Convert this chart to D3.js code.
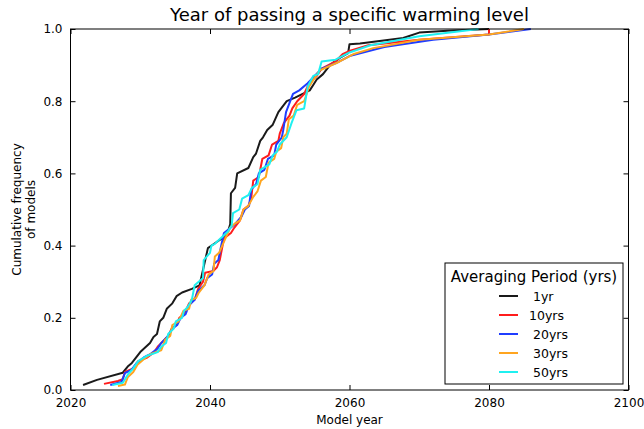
<!DOCTYPE html>
<html>
<head>
<meta charset="utf-8">
<script src="https://cdn.jsdelivr.net/npm/d3@7"></script>
<style>
  html, body { margin: 0; padding: 0; background: #fff; }
  svg { display: block; font-family: "DejaVu Sans", sans-serif; }
</style>
</head>
<body>
<svg id="chart" width="644" height="429"></svg>
<script>
// ---------------- data ----------------
const seriesNames = ["1yr", "10yrs", "20yrs", "30yrs", "50yrs"];
const legendLabels = [" 1yr", "10yrs", " 20yrs", " 30yrs", " 50yrs"];
const seriesColors = ["#1a1a1a", "#ff1c1c", "#1f3dff", "#ffa51f", "#1ff0f0"];

const yr1Years = [2021.8, 2023.8, 2027.5, 2028.2, 2028.8, 2030.0, 2031.4, 2031.9, 2032.4, 2032.8, 2033.3, 2033.8, 2034.6, 2035.2, 2036.0, 2037.4, 2038.5, 2039.7, 2040.6, 2041.7, 2042.6, 2042.9, 2043.0, 2043.6, 2043.9, 2045.5, 2046.2, 2046.6, 2047.2, 2047.6, 2048.2, 2049.0, 2049.8, 2051.0, 2052.2, 2054.3, 2054.8, 2055.3, 2056.2, 2057.2, 2058.6, 2059.8, 2060.0, 2061.5, 2067.7, 2070.0, 2074.0, 2080.0];
const yr1Freq  = [0.014, 0.028, 0.048, 0.065, 0.075, 0.105, 0.130, 0.147, 0.155, 0.190, 0.200, 0.225, 0.240, 0.260, 0.270, 0.280, 0.290, 0.393, 0.405, 0.420, 0.440, 0.460, 0.545, 0.560, 0.600, 0.615, 0.645, 0.655, 0.690, 0.700, 0.720, 0.735, 0.770, 0.800, 0.810, 0.830, 0.845, 0.860, 0.875, 0.900, 0.920, 0.933, 0.958, 0.960, 0.975, 0.990, 0.995, 1.000];

const yr10Years = [2024.8, 2026.8, 2027.5, 2027.8, 2029.0, 2029.7, 2031.0, 2032.0, 2032.5, 2033.0, 2034.0, 2034.5, 2035.2, 2035.6, 2036.3, 2037.0, 2037.8, 2038.3, 2039.0, 2039.3, 2040.5, 2041.0, 2041.4, 2041.7, 2042.0, 2043.0, 2043.5, 2044.3, 2044.8, 2045.5, 2045.9, 2046.2, 2047.0, 2047.5, 2048.4, 2048.9, 2049.8, 2050.0, 2050.6, 2051.4, 2051.8, 2052.5, 2053.5, 2054.2, 2055.3, 2056.0, 2058.0, 2059.0, 2060.1, 2062.7, 2065.0, 2070.0, 2080.0, 2080.0];
const yr10Freq  = [0.017, 0.025, 0.030, 0.050, 0.060, 0.080, 0.090, 0.105, 0.120, 0.130, 0.150, 0.170, 0.180, 0.200, 0.210, 0.240, 0.250, 0.280, 0.300, 0.325, 0.330, 0.340, 0.360, 0.390, 0.420, 0.435, 0.450, 0.470, 0.500, 0.510, 0.530, 0.580, 0.590, 0.640, 0.650, 0.680, 0.690, 0.710, 0.740, 0.760, 0.780, 0.800, 0.820, 0.850, 0.870, 0.890, 0.910, 0.930, 0.940, 0.955, 0.960, 0.970, 0.985, 1.000];

const yr20Years = [2025.7, 2027.3, 2027.8, 2028.7, 2029.5, 2030.5, 2031.5, 2032.5, 2033.0, 2034.0, 2034.6, 2035.3, 2035.8, 2036.5, 2037.0, 2037.8, 2038.3, 2039.2, 2039.6, 2040.3, 2040.6, 2041.2, 2041.5, 2042.0, 2043.0, 2043.6, 2044.5, 2045.0, 2045.6, 2045.9, 2046.6, 2047.0, 2047.8, 2048.3, 2049.2, 2049.5, 2050.3, 2050.5, 2050.9, 2051.5, 2051.9, 2052.8, 2054.0, 2055.0, 2056.0, 2058.0, 2060.0, 2065.0, 2072.0, 2080.0, 2086.0];
const yr20Freq  = [0.014, 0.022, 0.047, 0.055, 0.075, 0.090, 0.100, 0.115, 0.130, 0.150, 0.170, 0.180, 0.200, 0.210, 0.235, 0.250, 0.275, 0.290, 0.310, 0.320, 0.350, 0.360, 0.390, 0.435, 0.450, 0.460, 0.480, 0.500, 0.510, 0.555, 0.570, 0.600, 0.610, 0.640, 0.650, 0.680, 0.700, 0.720, 0.770, 0.800, 0.820, 0.830, 0.850, 0.870, 0.890, 0.905, 0.925, 0.950, 0.970, 0.985, 1.000];

const yr30Years = [2026.8, 2027.8, 2028.2, 2029.0, 2029.6, 2030.5, 2031.5, 2033.0, 2033.6, 2034.3, 2034.6, 2035.5, 2036.2, 2037.0, 2037.3, 2038.0, 2038.4, 2039.2, 2039.8, 2040.5, 2040.7, 2041.3, 2042.9, 2043.5, 2044.3, 2044.8, 2045.5, 2046.2, 2046.8, 2047.3, 2048.0, 2048.4, 2049.2, 2049.5, 2050.2, 2050.5, 2051.0, 2051.3, 2052.0, 2052.5, 2053.5, 2054.2, 2055.7, 2058.6, 2060.5, 2063.4, 2070.0, 2080.0, 2085.0];
const yr30Freq  = [0.011, 0.015, 0.035, 0.050, 0.070, 0.085, 0.100, 0.110, 0.140, 0.150, 0.180, 0.190, 0.220, 0.225, 0.250, 0.255, 0.270, 0.290, 0.320, 0.330, 0.370, 0.380, 0.450, 0.460, 0.470, 0.500, 0.510, 0.535, 0.550, 0.580, 0.590, 0.630, 0.640, 0.660, 0.670, 0.700, 0.710, 0.750, 0.760, 0.790, 0.800, 0.840, 0.885, 0.910, 0.930, 0.947, 0.970, 0.985, 1.000];

const yr50Years = [2026.0, 2027.5, 2028.3, 2029.0, 2029.7, 2031.0, 2032.5, 2033.0, 2033.7, 2034.0, 2034.8, 2035.1, 2036.0, 2036.3, 2036.8, 2037.4, 2037.8, 2039.0, 2039.1, 2040.0, 2040.2, 2040.7, 2042.6, 2043.1, 2043.3, 2044.2, 2044.6, 2045.5, 2046.0, 2046.8, 2047.2, 2048.5, 2049.0, 2049.6, 2050.0, 2051.0, 2051.7, 2052.4, 2053.5, 2054.0, 2054.8, 2055.5, 2056.0, 2058.0, 2060.0, 2063.0, 2070.0, 2078.5];
const yr50Freq  = [0.014, 0.020, 0.045, 0.060, 0.080, 0.095, 0.105, 0.120, 0.130, 0.155, 0.170, 0.190, 0.200, 0.220, 0.230, 0.250, 0.290, 0.310, 0.360, 0.380, 0.400, 0.405, 0.440, 0.455, 0.490, 0.500, 0.530, 0.540, 0.560, 0.570, 0.610, 0.625, 0.650, 0.660, 0.680, 0.700, 0.740, 0.775, 0.780, 0.840, 0.870, 0.875, 0.910, 0.915, 0.935, 0.955, 0.980, 1.000];

const xTicks = [2020, 2040, 2060, 2080, 2100];
const yTicks = [0.0, 0.2, 0.4, 0.6, 0.8, 1.0];
const titleText = "Year of passing a specific warming level";
const xLabel = "Model year";
const yLabelLines = ["Cumulative frequency", "of models"];
const legendTitle = "Averaging Period (yrs)";

// ---------------- chart ----------------
(function () {
const allYears = [yr1Years, yr10Years, yr20Years, yr30Years, yr50Years];
const allFreq = [yr1Freq, yr10Freq, yr20Freq, yr30Freq, yr50Freq];

const svg = d3.select("#chart");
const pLeft = 70.5, pRight = 628.5, pTop = 29, pBottom = 390;

const x = d3.scaleLinear().domain([2020, 2100]).range([pLeft, pRight]);
const y = d3.scaleLinear().domain([0, 1]).range([pBottom, pTop]);

const fmtY = d3.format(".1f");
svg.append("g").attr("transform", `translate(0,${pBottom})`)
  .call(d3.axisBottom(x).tickValues(xTicks).tickFormat(d3.format("d")).tickSizeInner(-5).tickSizeOuter(0).tickPadding(8))
  .call(g => g.select(".domain").remove())
  .call(g => g.selectAll("text").attr("font-size", 12).attr("font-family", "DejaVu Sans").attr("fill", "#000"));
svg.append("g").attr("transform", `translate(0,${pTop})`)
  .call(d3.axisTop(x).tickValues(xTicks).tickFormat("").tickSizeInner(-5).tickSizeOuter(0))
  .call(g => g.select(".domain").remove());
svg.append("g").attr("transform", `translate(${pLeft},0)`)
  .call(d3.axisLeft(y).tickValues(yTicks).tickFormat(fmtY).tickSizeInner(-5).tickSizeOuter(0).tickPadding(8))
  .call(g => g.select(".domain").remove())
  .call(g => g.selectAll("text").attr("font-size", 12).attr("font-family", "DejaVu Sans").attr("fill", "#000"));
svg.append("g").attr("transform", `translate(${pRight},0)`)
  .call(d3.axisRight(y).tickValues(yTicks).tickFormat("").tickSizeInner(-5).tickSizeOuter(0))
  .call(g => g.select(".domain").remove());
svg.selectAll(".tick line").attr("stroke", "#000");

const line = d3.line().x(d => x(d[0])).y(d => y(d[1]));
const linesG = svg.append("g");
seriesNames.forEach((name, i) => {
  const pts = allYears[i].map((yr, j) => [yr, allFreq[i][j]]);
  linesG.append("path")
    .datum(pts)
    .attr("d", line)
    .attr("fill", "none")
    .attr("stroke", seriesColors[i])
    .attr("stroke-width", 2)
    .attr("stroke-linejoin", "round");
});

svg.append("rect").attr("x", pLeft).attr("y", pTop)
  .attr("width", pRight - pLeft).attr("height", pBottom - pTop)
  .attr("fill", "none").attr("stroke", "#000").attr("stroke-width", 1);

svg.append("text").attr("x", (pLeft + pRight) / 2).attr("y", 21)
  .attr("text-anchor", "middle").attr("font-size", 18).text(titleText);
svg.append("text").attr("x", (pLeft + pRight) / 2).attr("y", 424)
  .attr("text-anchor", "middle").attr("font-size", 12).text(xLabel);
yLabelLines.forEach((t, i) => {
  svg.append("text")
    .attr("transform", `translate(${21 + i * 14},${(pTop + pBottom) / 2}) rotate(-90)`)
    .attr("text-anchor", "middle").attr("font-size", 12).text(t);
});

const lg = svg.append("g");
lg.append("rect").attr("x", 445).attr("y", 263).attr("width", 178).attr("height", 121)
  .attr("fill", "#fff").attr("stroke", "#000").attr("stroke-width", 1);
lg.append("text").attr("x", 534).attr("y", 282).attr("text-anchor", "middle")
  .attr("font-size", 15).text(legendTitle);
seriesNames.forEach((name, i) => {
  const cy = 296 + i * 19;
  lg.append("line").attr("x1", 499).attr("x2", 518).attr("y1", cy).attr("y2", cy)
    .attr("stroke", seriesColors[i]).attr("stroke-width", 2);
  lg.append("text").attr("x", 529).attr("y", cy + 4.5)
    .attr("font-size", 12.5).attr("xml:space", "preserve")
    .style("white-space", "pre").text(legendLabels[i]);
});
})();
</script>
</body>
</html>
